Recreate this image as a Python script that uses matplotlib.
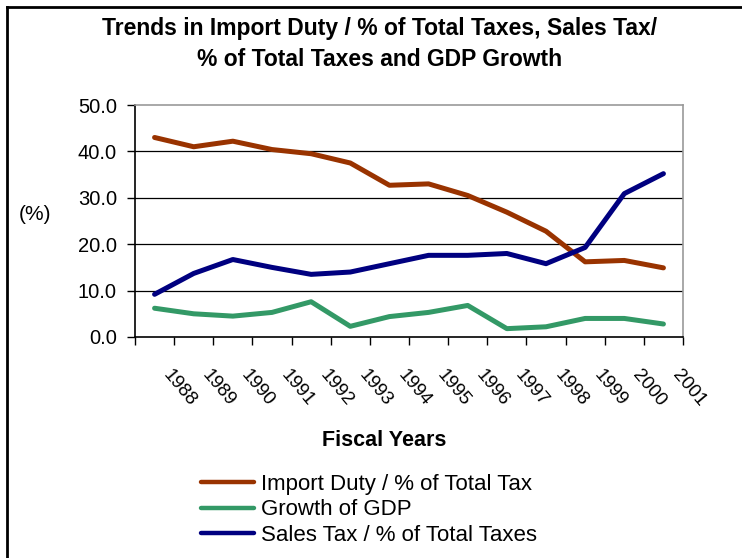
import numpy as np
import matplotlib
matplotlib.use("Agg")
import matplotlib.pyplot as plt
from matplotlib.lines import Line2D
from matplotlib.transforms import ScaledTranslation

plt.rcParams['font.family'] = ['Liberation Sans', 'DejaVu Sans']

# ---------------------------------------
# DATA
# ---------------------------------------
years = ['1988', '1989', '1990', '1991', '1992', '1993', '1994',
         '1995', '1996', '1997', '1998', '1999', '2000', '2001']

import_duty = [43.0, 41.0, 42.2, 40.4, 39.5, 37.5, 32.7,
               33.0, 30.5, 26.9, 22.8, 16.2, 16.5, 14.9]
gdp_growth = [6.2, 5.0, 4.5, 5.3, 7.6, 2.3, 4.4,
              5.3, 6.8, 1.8, 2.2, 4.0, 4.0, 2.8]
sales_tax = [9.2, 13.7, 16.7, 15.0, 13.5, 14.0, 15.8,
             17.6, 17.6, 18.0, 15.8, 19.3, 30.9, 35.2]

# ---------------------------------------
# FIGURE
# ---------------------------------------
fig = plt.figure(figsize=(7.42, 5.58), dpi=100)
ax = fig.add_axes([135/742, 1 - 337/558, 548/742, 232/558])

x = np.arange(len(years))

ax.plot(x, import_duty, color='#993300', lw=3.6, solid_capstyle='round',
        solid_joinstyle='round', label='Import Duty / % of Total Tax')
ax.plot(x, gdp_growth, color='#339966', lw=3.6, solid_capstyle='round',
        solid_joinstyle='round', label='Growth of GDP')
ax.plot(x, sales_tax, color='#000080', lw=3.6, solid_capstyle='round',
        solid_joinstyle='round', label='Sales Tax / % of Total Taxes')

ax.set_xlim(-0.5, len(years) - 0.5)
ax.set_ylim(0, 50)

# y axis
ax.set_yticks(np.arange(0, 51, 10))
ax.set_yticklabels([f"{v:.1f}" for v in np.arange(0, 51, 10)])
ax.tick_params(axis='y', direction='out', length=6, width=1, pad=7,
               labelsize=14.5, colors='black')
for yv in range(10, 50, 10):
    ax.axhline(yv, color='black', lw=0.9, zorder=0)

# x axis: ticks on category borders, labels below centers
ax.set_xticks(np.arange(-0.5, len(years)), minor=True)
ax.set_xticks(x)
ax.set_xticklabels(years, rotation=-50, ha='center', va='top', fontsize=13.5)
ax.tick_params(axis='x', which='major', length=0, pad=21)
ax.tick_params(axis='x', which='minor', direction='out', length=6, width=1)
shift = ScaledTranslation(25/100, 0, fig.dpi_scale_trans)
for lab in ax.get_xticklabels():
    lab.set_transform(lab.get_transform() + shift)

for s in ['top', 'right']:
    ax.spines[s].set_color('#999999')
    ax.spines[s].set_linewidth(1.2)
for s in ['left', 'bottom']:
    ax.spines[s].set_color('black')
    ax.spines[s].set_linewidth(1.2)

# titles and labels
fig.text(380/742, 1 - 28/558, 'Trends in Import Duty / % of Total Taxes, Sales Tax/',
         ha='center', va='center', fontsize=16.5, fontweight='bold')
fig.text(380/742, 1 - 59/558, '% of Total Taxes and GDP Growth',
         ha='center', va='center', fontsize=16.5, fontweight='bold')
fig.text(35/742, 1 - 214/558, '(%)', ha='center', va='center', fontsize=15)
fig.text(384/742, 1 - 440/558, 'Fiscal Years', ha='center', va='center',
         fontsize=15.5, fontweight='bold')

leg = ax.legend(loc='upper left', bbox_to_anchor=(201/742, 1 - 474/558),
                bbox_transform=fig.transFigure, frameon=False, fontsize=16,
                handlelength=2.4, handletextpad=0.3, labelspacing=0.2,
                borderpad=0, borderaxespad=0)
for h in leg.get_lines():
    h.set_linewidth(3.2)

# outer frame (left and top edges)
fig.add_artist(Line2D([7/742, 7/742], [0, 1 - 7/558], color='black', lw=2,
                      transform=fig.transFigure))
fig.add_artist(Line2D([7/742, 1], [1 - 7/558, 1 - 7/558], color='black', lw=2,
                      transform=fig.transFigure))

fig.savefig('out.png', dpi=100)
